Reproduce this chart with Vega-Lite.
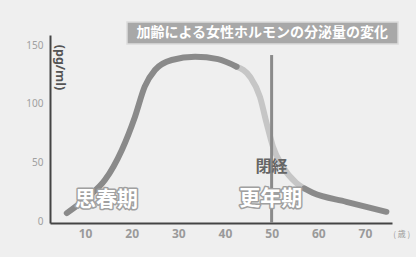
{
  "$schema": "https://vega.github.io/schema/vega-lite/v6.json",
  "width": 342,
  "height": 188,
  "autosize": {"type": "none"},
  "padding": {"left": 50, "top": 35, "right": 24, "bottom": 34},
  "background": "#efefef",
  "config": {"view": {"stroke": null}, "font": "Noto Sans CJK JP"},
  "datasets": {
    "curve": [
      {"age": 6.1, "level": 7.4, "seg": "a"},
      {"age": 10.6, "level": 21, "seg": "a"},
      {"age": 14.3, "level": 35.6, "seg": "a"},
      {"age": 17.9, "level": 61, "seg": "a"},
      {"age": 20.7, "level": 89, "seg": "a"},
      {"age": 22.8, "level": 114.7, "seg": "a"},
      {"age": 25, "level": 128.8, "seg": "a"},
      {"age": 28.6, "level": 137.3, "seg": "a"},
      {"age": 33.6, "level": 140, "seg": "a"},
      {"age": 38.5, "level": 138, "seg": "a"},
      {"age": 42.5, "level": 131.6, "seg": "a"},
      {"age": 42.5, "level": 131.6, "seg": "b"},
      {"age": 45.4, "level": 122.9, "seg": "b"},
      {"age": 47.5, "level": 106, "seg": "b"},
      {"age": 48.9, "level": 84, "seg": "b"},
      {"age": 50.3, "level": 63.6, "seg": "b"},
      {"age": 52.4, "level": 46.6, "seg": "b"},
      {"age": 55.3, "level": 33, "seg": "b"},
      {"age": 57, "level": 28.3, "seg": "b"},
      {"age": 57, "level": 28.3, "seg": "c"},
      {"age": 58.8, "level": 24.6, "seg": "c"},
      {"age": 66, "level": 17, "seg": "c"},
      {"age": 74.6, "level": 8.5, "seg": "c"}
    ],
    "title": [
      {"x1": 19.0, "x2": 77.1, "y1": 150.8, "y2": 169.5, "xc": 48, "yc": 160.2, "label": "加齢による女性ホルモンの分泌量の変化"}
    ],
    "rule": [{"age": 50, "y1": -1, "y2": 141.5}],
    "big": [
      {"age": 14.6, "level": 18.6, "label": "思春期"},
      {"age": 49.8, "level": 19.5, "label": "更年期"}
    ],
    "small": [{"age": 50, "level": 46.6, "label": "閉経"}],
    "unit": [{"age": 77.9, "level": -11, "label": "( 歳 )"}]
  },
  "layer": [
    {
      "data": {"name": "title"},
      "mark": {"type": "rect", "fill": "#a8a8a8", "stroke": "#dcdcdc", "strokeWidth": 1.5},
      "encoding": {
        "x": {"field": "x1", "type": "quantitative", "scale": {"domain": [2.5, 75.8], "nice": false, "zero": false},
          "axis": {"values": [10, 20, 30, 40, 50, 60, 70], "ticks": false, "grid": false, "domainColor": "#444", "domainWidth": 2, "labelColor": "#9a9a9a", "labelFontSize": 12, "labelFontWeight": "bold", "labelFont": "Noto Sans", "labelPadding": 5, "title": null}},
        "x2": {"field": "x2"},
        "y": {"field": "y1", "type": "quantitative", "scale": {"domain": [-1, 158.5], "nice": false, "zero": false},
          "axis": {"values": [0, 50, 100, 150], "ticks": false, "grid": false, "domainColor": "#444", "domainWidth": 2, "labelColor": "#a0a0a0", "labelFontSize": 10, "labelFont": "Noto Sans", "labelPadding": 7, "title": "(pg/ml)", "titleAngle": 90, "titleX": 9, "titleY": 32, "titleAlign": "center", "titleBaseline": "middle", "titleFontSize": 12.5, "titleFontWeight": "bold", "titleColor": "#555", "titleFont": "Noto Sans"}},
        "y2": {"field": "y2"}
      }
    },
    {
      "data": {"name": "title"},
      "mark": {"type": "text", "color": "white", "fontSize": 14, "fontWeight": "bold", "align": "center", "baseline": "middle"},
      "encoding": {
        "x": {"field": "xc", "type": "quantitative"},
        "y": {"field": "yc", "type": "quantitative"},
        "text": {"field": "label"}
      }
    },
    {
      "data": {"name": "curve"},
      "transform": [{"filter": "datum.seg == 'b'"}],
      "mark": {"type": "line", "color": "#c6c6c6", "strokeWidth": 6, "strokeCap": "round", "interpolate": "monotone"},
      "encoding": {
        "x": {"field": "age", "type": "quantitative"},
        "y": {"field": "level", "type": "quantitative"}
      }
    },
    {
      "data": {"name": "curve"},
      "transform": [{"filter": "datum.seg != 'b'"}],
      "mark": {"type": "line", "color": "#8a8a8a", "strokeWidth": 6, "strokeCap": "round", "interpolate": "monotone"},
      "encoding": {
        "x": {"field": "age", "type": "quantitative"},
        "y": {"field": "level", "type": "quantitative"},
        "detail": {"field": "seg"}
      }
    },
    {
      "data": {"name": "rule"},
      "mark": {"type": "rule", "color": "#8a8a8a", "strokeWidth": 3},
      "encoding": {
        "x": {"field": "age", "type": "quantitative"},
        "y": {"field": "y1", "type": "quantitative"},
        "y2": {"field": "y2"}
      }
    },
    {
      "data": {"name": "small"},
      "mark": {"type": "text", "color": "#666", "fontSize": 16, "fontWeight": "bold", "align": "center", "baseline": "middle"},
      "encoding": {
        "x": {"field": "age", "type": "quantitative"},
        "y": {"field": "level", "type": "quantitative"},
        "text": {"field": "label"}
      }
    },
    {
      "data": {"name": "big"},
      "mark": {"type": "text", "fill": "#a0a0a0", "stroke": "#a0a0a0", "strokeWidth": 3, "strokeJoin": "round", "fontSize": 21, "fontWeight": "bold", "align": "center", "baseline": "middle"},
      "encoding": {
        "x": {"field": "age", "type": "quantitative"},
        "y": {"field": "level", "type": "quantitative"},
        "text": {"field": "label"}
      }
    },
    {
      "data": {"name": "big"},
      "mark": {"type": "text", "fill": "white", "fontSize": 21, "fontWeight": "bold", "align": "center", "baseline": "middle"},
      "encoding": {
        "x": {"field": "age", "type": "quantitative"},
        "y": {"field": "level", "type": "quantitative"},
        "text": {"field": "label"}
      }
    },
    {
      "data": {"name": "unit"},
      "mark": {"type": "text", "color": "#9a9a9a", "fontSize": 8, "align": "center", "baseline": "middle"},
      "encoding": {
        "x": {"field": "age", "type": "quantitative"},
        "y": {"field": "level", "type": "quantitative"},
        "text": {"field": "label"}
      }
    }
  ]
}
